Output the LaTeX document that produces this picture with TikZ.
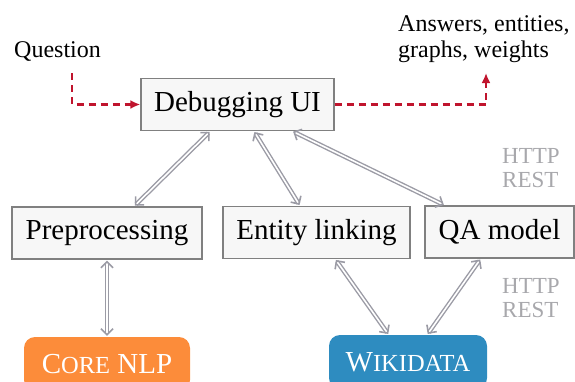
\documentclass[tikz,border=0pt]{standalone}
\usepackage{fontspec}
\setmainfont{Liberation Serif}
\usetikzlibrary{arrows.meta}
\definecolor{boxfill}{RGB}{247,247,247}
\definecolor{boxline}{RGB}{128,128,128}
\definecolor{linkgray}{RGB}{155,155,165}
\definecolor{flowred}{RGB}{192,20,45}
\definecolor{nlporange}{RGB}{252,140,58}
\definecolor{wikiblue}{RGB}{46,140,192}
\definecolor{protogray}{RGB}{168,168,172}
\tikzset{
  comp/.style={draw=boxline, fill=boxfill, line width=1.3pt, inner sep=0pt,
    minimum height=52pt, font=\fontsize{29}{32}\selectfont},
  service/.style={rounded corners=11pt, inner sep=0pt, minimum height=54pt,
    text=white, font=\fontsize{29}{32}\selectfont},
  ltip/.tip={Straight Barb[length=6pt,width=12pt,line width=1.6pt]},
  link/.style={draw=linkgray, double=white, line width=1.4pt, double distance=1.6pt,
    ltip-ltip, shorten <=1pt, shorten >=1pt},
  flow/.style={draw=flowred, line width=2.2pt, dash pattern=on 7pt off 5pt,
    -{Latex[length=10pt,width=9pt]}},
  label/.style={font=\fontsize{24}{26}\selectfont, inner sep=0pt},
  proto/.style={font=\fontsize{23}{24}\selectfont, text=protogray, inner sep=0pt, align=left}
}
\begin{document}
\begin{tikzpicture}[x=1pt,y=-1pt]
\path[use as bounding box, clip] (0,0) rectangle (575,381);
\node[comp, minimum width=193pt] (dbg) at (237.5,104.5) {Debugging UI};
\node[comp, minimum width=190pt] (pre) at (107,233) {Preprocessing};
\node[comp, minimum width=187pt] (ent) at (316.5,232.5) {Entity linking};
\node[comp, minimum width=149pt] (qa) at (499.5,232) {QA model};
\node[service, fill=nlporange, minimum width=166pt] (nlp) at (107,364)
  {C{\fontsize{24.5}{25}\selectfont ORE} NLP};
\node[service, fill=wikiblue, minimum width=158pt] (wiki) at (408,362)
  {W{\fontsize{24.5}{25}\selectfont IKIDATA}};
\node[label, anchor=base west] (q) at (14,57) {Question};
\node[label, anchor=base west] (ans1) at (398,31) {Answers, entities,};
\node[label, anchor=base west] (ans2) at (398,57) {graphs, weights};
\node[proto, anchor=base west] (p1a) at (502,163) {HTTP};
\node[proto, anchor=base west] (p1b) at (502,187) {REST};
\node[proto, anchor=base west] (p2a) at (502,293) {HTTP};
\node[proto, anchor=base west] (p2b) at (502,317) {REST};
\coordinate (qstart) at (72,73);
\coordinate (qbend) at (72,104.5);
\coordinate (obend) at (486,104.5);
\coordinate (oend) at (486,73);
\draw[flow] (qstart) -- (qbend) -- (dbg.west);
\draw[flow] (dbg.east) -- (obend) -- (oend);
\draw[link] (dbg) -- (pre);
\draw[link] (dbg) -- (ent);
\draw[link] (dbg) -- (qa);
\draw[link] (pre) -- (nlp);
\draw[link] (ent) -- (wiki);
\draw[link] (qa) -- (wiki);
\end{tikzpicture}
\end{document}
